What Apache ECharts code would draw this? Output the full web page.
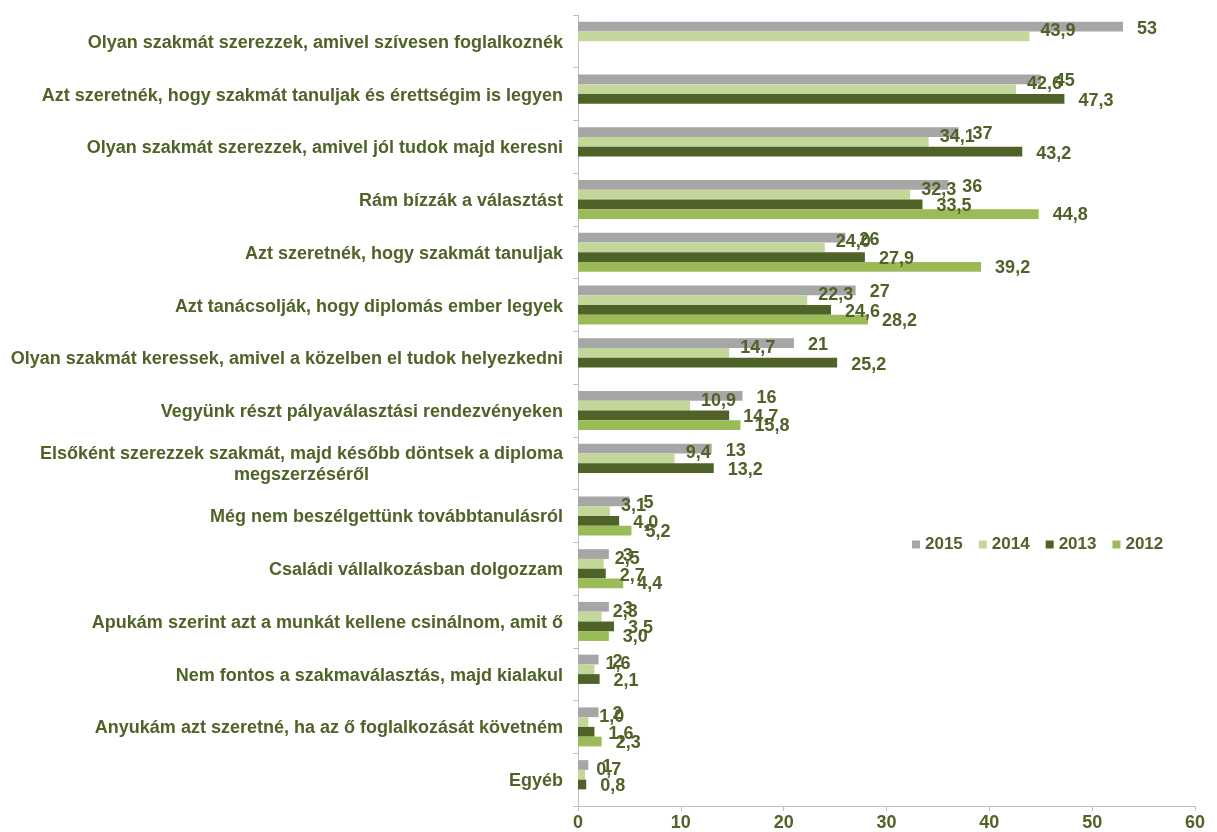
<!DOCTYPE html>
<html>
<head>
<meta charset="utf-8">
<script src="https://cdn.jsdelivr.net/npm/echarts@6/dist/echarts.min.js"></script>
<style>
  html, body { margin: 0; padding: 0; background: #fff; }
  #chart { width: 1217px; height: 832px; }
</style>
</head>
<body>
<div id="chart"></div>
<script>
var categories = [
    'Olyan szakmát szerezzek, amivel szívesen foglalkoznék',
    'Azt szeretnék, hogy szakmát tanuljak és érettségim is legyen',
    'Olyan szakmát szerezzek, amivel jól tudok majd keresni',
    'Rám bízzák a választást',
    'Azt szeretnék, hogy szakmát tanuljak',
    'Azt tanácsolják, hogy diplomás ember legyek',
    'Olyan szakmát keressek, amivel a közelben el tudok helyezkedni',
    'Vegyünk részt pályaválasztási rendezvényeken',
    'Elsőként szerezzek szakmát, majd később döntsek a diploma\nmegszerzéséről',
    'Még nem beszélgettünk továbbtanulásról',
    'Családi vállalkozásban dolgozzam',
    'Apukám szerint azt a munkát kellene csinálnom, amit ő',
    'Nem fontos a szakmaválasztás, majd kialakul',
    'Anyukám azt szeretné, ha az ő foglalkozását követném',
    'Egyéb'
];

// '-' = nincs adat az adott évben
var y2015 = [53, 45, 37, 36, 26, 27, 21, 16, 13, 5, 3, 3, 2, 2, 1];
var y2014 = [43.9, 42.6, 34.1, 32.3, 24.0, 22.3, 14.7, 10.9, 9.4, 3.1, 2.5, 2.3, 1.6, 1.0, 0.7];
var y2013 = ['-', 47.3, 43.2, 33.5, 27.9, 24.6, 25.2, 14.7, 13.2, 4.0, 2.7, 3.5, 2.1, 1.6, 0.8];
var y2012 = ['-', '-', '-', 44.8, 39.2, 28.2, '-', 15.8, '-', 5.2, 4.4, 3.0, '-', 2.3, '-'];

var xTicks = [0, 10, 20, 30, 40, 50, 60];

var textColor = '#4F6228';
var lineColor = '#BFBFBF';
var fontFam = 'Arial, "Liberation Sans", sans-serif';
var fs = 18;

var makeSeries = function (name, data, color, decimals, offset) {
    return {
        name: name,
        type: 'bar',
        data: data,
        barGap: '0%',
        barCategoryGap: '26%',
        itemStyle: { color: color },
        label: {
            show: true,
            position: 'right',
            distance: 14,
            offset: offset,
            color: textColor,
            fontFamily: fontFam,
            fontWeight: 'bold',
            fontSize: fs,
            formatter: function (p) {
                return p.value.toFixed(decimals).replace('.', ',');
            }
        },
        emphasis: { disabled: true }
    };
};

var chart = echarts.init(document.getElementById('chart'));
chart.setOption({
    animation: false,
    textStyle: { fontFamily: fontFam },
    grid: { left: 578, right: 22, top: 15, bottom: 26 },
    legend: {
        left: 907,
        top: 531,
        itemWidth: 8,
        itemHeight: 8,
        itemGap: 16,
        icon: 'rect',
        textStyle: { color: textColor, fontWeight: 'bold', fontSize: 17, fontFamily: fontFam },
        data: ['2015', '2014', '2013', '2012']
    },
    xAxis: {
        type: 'value',
        min: xTicks[0],
        max: xTicks[xTicks.length - 1],
        interval: 10,
        splitLine: { show: false },
        axisLine: { show: true, lineStyle: { color: lineColor } },
        axisTick: { show: true, length: 5, lineStyle: { color: lineColor } },
        axisLabel: { color: textColor, fontWeight: 'bold', fontSize: fs, margin: 8 }
    },
    yAxis: {
        type: 'category',
        inverse: true,
        data: categories,
        axisLine: { lineStyle: { color: lineColor } },
        axisTick: { show: true, length: 5, lineStyle: { color: lineColor } },
        axisLabel: {
            color: textColor,
            fontWeight: 'bold',
            fontSize: fs,
            margin: 15,
            lineHeight: 21,
            padding: [3, 0, 0, 0],
            formatter: function (v) {
                if (v.indexOf('\n') >= 0) {
                    return v.split('\n').map(function (s) { return '{c|' + s + '}'; }).join('\n');
                }
                return v;
            },
            rich: {
                c: { width: 523, align: 'center', color: textColor, fontWeight: 'bold', fontSize: fs, lineHeight: 21 }
            }
        }
    },
    series: [
        makeSeries('2015', y2015, '#A6A6A6', 0, [0, 2]),
        makeSeries('2014', y2014, '#C4D79B', 1, [-3, -5]),
        makeSeries('2013', y2013, '#4F6228', 1, [0, 2]),
        makeSeries('2012', y2012, '#9BBB59', 1, [0, 1])
    ]
});
</script>
</body>
</html>
